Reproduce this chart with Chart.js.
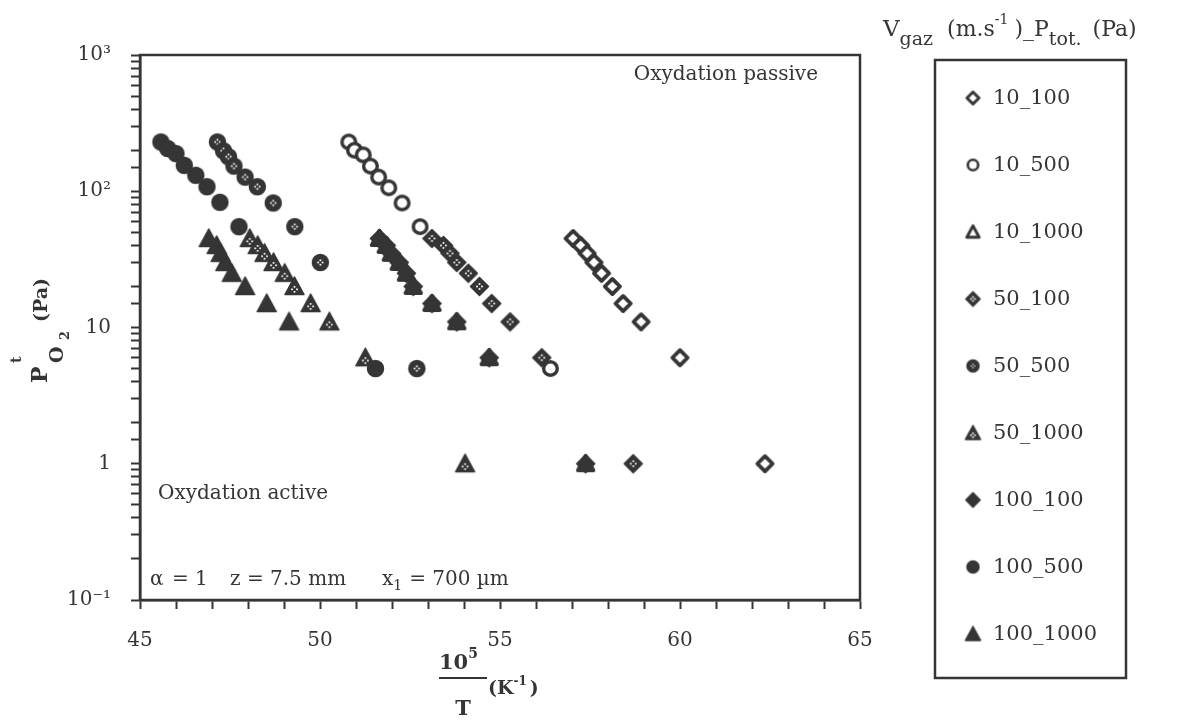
<!DOCTYPE html>
<html>
<head>
<meta charset="utf-8">
<script src="https://cdn.jsdelivr.net/npm/chart.js@4.4.1/dist/chart.umd.min.js"></script>
<style>
html, body { margin: 0; padding: 0; background: #fff; }
</style>
</head>
<body>
<canvas id="chart" width="1178" height="720"></canvas>
<script>
// ---- datos ----
const seriesNames = ["10_100", "10_500", "10_1000", "50_100", "50_500", "50_1000", "100_100", "100_500", "100_1000"];

const x10_100 = [57.03, 57.24, 57.42, 57.61, 57.82, 58.12, 58.42, 58.92, 60.0, 62.36];
const y10_100 = [45, 40, 35, 30, 25, 20, 15, 11, 6, 1];

const x10_500 = [50.80, 50.96, 51.20, 51.40, 51.63, 51.91, 52.28, 52.78, 56.40];
const y10_500 = [230, 200, 185, 153, 127, 106, 82, 55, 5];

const x10_1000 = [51.65, 51.84, 51.98, 52.20, 52.40, 52.59, 53.11, 53.80, 54.70, 57.38];
const y10_1000 = [45, 40, 35, 30, 25, 20, 15, 11, 6, 1];

const x50_100 = [53.11, 53.43, 53.61, 53.80, 54.12, 54.43, 54.77, 55.28, 56.16, 58.70];
const y50_100 = [45, 40, 35, 30, 25, 20, 15, 11, 6, 1];

const x50_500 = [47.15, 47.32, 47.46, 47.61, 47.92, 48.26, 48.70, 49.30, 50.01, 52.69];
const y50_500 = [230, 198, 179, 153, 127, 108, 82, 55, 30, 5];

const x50_1000 = [48.05, 48.27, 48.46, 48.71, 49.02, 49.29, 49.74, 50.26, 51.26, 54.03];
const y50_1000 = [45, 40, 35, 30, 25, 20, 15, 11, 6, 1];

const x100_100 = [51.65, 51.84, 51.98, 52.20, 52.40, 52.59, 53.11, 53.80, 54.70, 57.38];
const y100_100 = [45, 40, 35, 30, 25, 20, 15, 11, 6, 1];

const x100_500 = [45.58, 45.77, 46.0, 46.23, 46.55, 46.86, 47.22, 47.75, 51.54];
const y100_500 = [230, 206, 189, 155, 131, 108, 83, 55, 5];

const x100_1000 = [46.91, 47.13, 47.24, 47.37, 47.55, 47.92, 48.52, 49.14];
const y100_1000 = [45, 40, 35, 30, 25, 20, 15, 11];

const xTicksMajor = [45, 50, 55, 60, 65];
const yTickLabels = { "-1": "10\u207B\u00B9", "0": "1", "1": "10", "2": "10\u00B2", "3": "10\u00B3" };

const allX = [x10_100, x10_500, x10_1000, x50_100, x50_500, x50_1000, x100_100, x100_500, x100_1000];
const allY = [y10_100, y10_500, y10_1000, y50_100, y50_500, y50_1000, y100_100, y100_500, y100_1000];
const shapes = [
	["diamond", "open"], ["circle", "open"], ["triangle", "open"],
	["diamond", "dotted"], ["circle", "dotted"], ["triangle", "dotted"],
	["diamond", "filled"], ["circle", "filled"], ["triangle", "filled"]
];

const INK = "#353535";
const SERIF = "'DejaVu Serif', serif";

// marcadores dibujados a mano
function makeMarker(shape, fill, s) {
	const c = document.createElement("canvas");
	c.width = s + 4;
	c.height = s + 4;
	const g = c.getContext("2d");
	const m = c.width / 2, r = s / 2;
	g.lineJoin = "round";
	g.beginPath();
	if (shape === "circle") {
		g.arc(m, m, r - (fill === "open" ? s * 0.1 : 0.5), 0, Math.PI * 2);
	} else if (shape === "diamond") {
		const q = fill === "open" ? r * 0.8 : r * 0.95;
		g.moveTo(m, m - q); g.lineTo(m + q, m); g.lineTo(m, m + q); g.lineTo(m - q, m); g.closePath();
	} else {
		const q = fill === "open" ? r * 0.82 : r;
		g.moveTo(m, m - q); g.lineTo(m + q, m + q * 0.85); g.lineTo(m - q, m + q * 0.85); g.closePath();
	}
	if (fill === "open") {
		g.fillStyle = "#fff";
		g.fill();
		g.lineWidth = s * 0.2;
		g.strokeStyle = INK;
		g.stroke();
	} else {
		g.fillStyle = INK;
		g.fill();
		g.lineWidth = 1.5;
		g.strokeStyle = INK;
		g.stroke();
	}
	if (fill === "dotted") {
		g.fillStyle = "#fff";
		const d = s * 0.13;
		const cy = shape === "triangle" ? m + r * 0.3 : m;
		const ds = s > 14 ? 1.7 : 1.2;
		[[-d, 0], [d, 0], [0, -d], [0, d]].forEach(function (p) {
			g.fillRect(m + p[0] - ds / 2, cy + p[1] - ds / 2, ds, ds);
		});
	}
	return c;
}

const plotMarkers = shapes.map(s => makeMarker(s[0], s[1], s[0] === "circle" ? 17 : 19));
const legendMarkers = shapes.map(s => makeMarker(s[0], s[1], s[0] === "circle" ? 13 : 15));

const datasets = seriesNames.map(function (name, i) {
	return {
		label: name,
		data: allX[i].map((x, j) => ({ x: x, y: allY[i][j] })),
		pointStyle: plotMarkers[i],
		showLine: false,
		order: name === "10_1000" ? 10 : 0
	};
});

// texto con sub/superindices
function richText(ctx, parts, x, y) {
	let cx = x;
	parts.forEach(function (p) {
		ctx.font = (p.bold ? "bold " : "") + p.size + "px " + SERIF;
		const px = p.at !== undefined ? p.at : cx;
		ctx.fillText(p.t, px, y + (p.dy || 0));
		cx = px + ctx.measureText(p.t).width + (p.gap || 0);
	});
	return cx;
}

const decorPlugin = {
	id: "decor",
	afterDraw(chart) {
		const ctx = chart.ctx;
		const a = chart.chartArea;
		ctx.save();
		ctx.strokeStyle = INK;
		ctx.fillStyle = INK;
		ctx.lineWidth = 2.5;
		ctx.strokeRect(a.left, a.top, a.right - a.left, a.bottom - a.top);

		ctx.textBaseline = "alphabetic";
		ctx.textAlign = "left";
		// anotaciones
		ctx.font = "20px " + SERIF;
		ctx.textAlign = "right";
		ctx.fillText("Oxydation passive", 818, 80);
		ctx.textAlign = "left";
		ctx.fillText("Oxydation active", 158, 499);
		richText(ctx, [
			{ t: "\u03B1", size: 20, at: 150 },
			{ t: "= 1", size: 20, at: 172 },
			{ t: "z = 7.5 mm", size: 20, at: 230 },
			{ t: "x", size: 20, at: 382 },
			{ t: "1", size: 14, dy: 5, gap: 7 },
			{ t: "= 700 \u00B5m", size: 20 }
		], 150, 585);

		// titulo eje x (fraccion)
		richText(ctx, [
			{ t: "10", size: 21, bold: true },
			{ t: "5", size: 14, bold: true, dy: -11 }
		], 439, 669);
		ctx.lineWidth = 2;
		ctx.beginPath();
		ctx.moveTo(439, 678);
		ctx.lineTo(487, 678);
		ctx.stroke();
		ctx.font = "bold 21px " + SERIF;
		ctx.textAlign = "center";
		ctx.fillText("T", 463, 715);
		ctx.textAlign = "left";
		richText(ctx, [
			{ t: "(K", size: 19, bold: true },
			{ t: "-1", size: 12, bold: true, dy: -9, gap: 3 },
			{ t: ")", size: 19, bold: true }
		], 488, 694);

		// titulo eje y (girado)
		ctx.save();
		ctx.translate(47, 383);
		ctx.rotate(-Math.PI / 2);
		ctx.font = "bold 22px " + SERIF;
		ctx.fillText("P", 0, 0);
		ctx.font = "bold 14px " + SERIF;
		ctx.fillText("t", 20, -26);
		ctx.font = "bold 19px " + SERIF;
		ctx.fillText("O", 20, 16);
		ctx.font = "bold 13px " + SERIF;
		ctx.fillText("2", 43, 22);
		ctx.font = "bold 19px " + SERIF;
		ctx.fillText("(Pa)", 61, 0);
		ctx.restore();

		// leyenda
		richText(ctx, [
			{ t: "V", size: 23 },
			{ t: "gaz", size: 19, dy: 9, gap: 14 },
			{ t: "(m.s", size: 22 },
			{ t: "-1", size: 14, dy: -12, gap: 6 },
			{ t: ")_P", size: 22 },
			{ t: "tot.", size: 19, dy: 9, gap: 11 },
			{ t: "(Pa)", size: 22 }
		], 883, 36);
		ctx.lineWidth = 2.5;
		ctx.strokeRect(935, 60, 191, 618);
		ctx.font = "21px " + SERIF;
		ctx.textBaseline = "middle";
		seriesNames.forEach(function (name, i) {
			const yy = 98 + i * 67;
			const mk = legendMarkers[i];
			ctx.drawImage(mk, 973 - mk.width / 2, yy - mk.height / 2);
			ctx.fillText(name, 993, yy + 1);
		});
		ctx.restore();
	}
};

new Chart(document.getElementById("chart"), {
	type: "scatter",
	data: { datasets: datasets },
	options: {
		responsive: false,
		animation: false,
		events: [],
		layout: { padding: { left: 0, right: 318, top: 55, bottom: 0 } },
		plugins: { legend: { display: false }, tooltip: { enabled: false } },
		scales: {
			x: {
				type: "linear",
				min: 45,
				max: 65,
				afterFit: s => { s.height = 120; },
				ticks: {
					stepSize: 1,
					autoSkip: false,
					maxRotation: 0,
					padding: 20,
					color: INK,
					font: { family: SERIF, size: 20 },
					callback: v => xTicksMajor.includes(v) ? String(v) : ""
				},
				grid: { drawOnChartArea: false, drawTicks: true, tickLength: 9, tickWidth: 2, tickColor: INK },
				border: { display: true, color: INK, width: 2.5 }
			},
			y: {
				type: "logarithmic",
				min: 0.1,
				max: 1000,
				afterFit: s => { s.width = 140; },
				ticks: {
					autoSkip: false,
					padding: 20,
					color: INK,
					font: { family: SERIF, size: 20 },
					callback: function (v) {
						const e = Math.log10(v);
						if (Math.abs(e - Math.round(e)) > 1e-6) return "";
						return yTickLabels[String(Math.round(e))] || "";
					}
				},
				grid: { drawOnChartArea: false, drawTicks: true, tickLength: 9, tickWidth: 2, tickColor: INK },
				border: { display: true, color: INK, width: 2.5 }
			}
		}
	},
	plugins: [decorPlugin]
});
</script>
</body>
</html>
